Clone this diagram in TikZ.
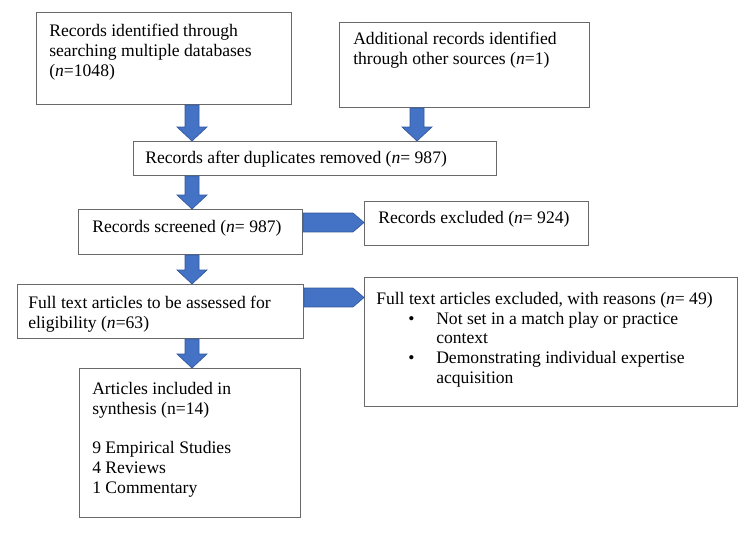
\documentclass[tikz,border=0pt]{standalone}
\usepackage{fontspec}
\setmainfont{Liberation Serif}
\usetikzlibrary{calc}

\definecolor{arrowblue}{RGB}{68,114,196}
\definecolor{arrowedge}{RGB}{50,88,158}
\definecolor{boxgray}{RGB}{105,105,105}

\newcommand{\blockdown}[2]{%
  \filldraw[arrowblue, draw=arrowedge, line width=.5pt] let \p1=(#1), \p2=(#2) in
    (\x1-5.25pt,\y1) -- (\x1-5.25pt,\y2+10.5pt) -- (\x1-11.25pt,\y2+10.5pt) -- (\x2,\y2)
    -- (\x1+11.25pt,\y2+10.5pt) -- (\x1+5.25pt,\y2+10.5pt) -- (\x1+5.25pt,\y1) -- cycle;}
\newcommand{\blockright}[2]{%
  \filldraw[arrowblue, draw=arrowedge, line width=.5pt] let \p1=(#1), \p2=(#2) in
    (\x1,\y1+7.1pt) -- (\x2-8.25pt,\y1+7.1pt) -- (\x2,\y1) -- (\x2-8.25pt,\y1-7.1pt)
    -- (\x1,\y1-7.1pt) -- cycle;}
\newcommand{\itembullet}{\makebox[45pt][l]{\hspace{24pt}\textbullet}}

\begin{document}
\begin{tikzpicture}[x=.75pt, y=-.75pt,
  box/.style={draw=boxgray, line width=.8pt, anchor=north west, inner sep=0pt},
  txt/.style={anchor=north west, align=left, inner sep=0pt, font=\fontsize{13.2}{14.8}\selectfont}]
\useasboundingbox (0,0) rectangle (750,536);

\node[box, minimum width=191.25pt, minimum height=69pt] (ident) at (36,12) {};
\node[txt] (identtxt) at (49,24) {Records identified through\\searching multiple databases\\(\textit{n}=1048)};

\node[box, minimum width=187.5pt, minimum height=63.75pt] (other) at (339,22) {};
\node[txt] (othertxt) at (353,32) {Additional records identified\\through other sources (\textit{n}=1)};

\node[box, minimum width=272.25pt, minimum height=25.5pt] (dedup) at (133,141) {};
\node[txt] (deduptxt) at (145,151) {Records after duplicates removed (\textit{n}= 987)};

\node[box, minimum width=168pt, minimum height=33.75pt] (screen) at (78,209) {};
\node[txt] (screentxt) at (92,220) {Records screened (\textit{n}= 987)};

\node[box, minimum width=168pt, minimum height=33pt] (excl) at (364,201) {};
\node[txt] (excltxt) at (378,211) {Records excluded (\textit{n}= 924)};

\node[box, minimum width=214.5pt, minimum height=40.5pt] (full) at (17,284) {};
\node[txt] (fulltxt) at (28,296) {Full text articles to be assessed for\\eligibility (\textit{n}=63)};

\node[box, minimum width=279.75pt, minimum height=96.75pt] (fullexcl) at (364,277) {};
\node[txt] (fullexcltxt) at (376,292) {Full text articles excluded, with reasons (\textit{n}= 49)\\
  \itembullet Not set in a match play or practice\\
  \hspace*{45pt}context\\
  \itembullet Demonstrating individual expertise\\
  \hspace*{45pt}acquisition};

\node[box, minimum width=165.75pt, minimum height=111.75pt] (incl) at (79,368) {};
\node[txt] (incltxt) at (92,382) {Articles included in\\synthesis (n=14)\\[14.8pt]9 Empirical Studies\\4 Reviews\\1 Commentary};

\coordinate (col) at (192,0);
\coordinate (col2) at (417,0);
\coordinate (row1) at (0,222.5);
\coordinate (row2) at (0,297.5);

\blockdown{ident.south -| col}{dedup.north -| col}
\blockdown{other.south -| col2}{dedup.north -| col2}
\blockdown{dedup.south -| col}{screen.north -| col}
\blockdown{screen.south -| col}{full.north -| col}
\blockdown{full.south -| col}{incl.north -| col}

\blockright{screen.east |- row1}{excl.west |- row1}
\blockright{full.east |- row2}{fullexcl.west |- row2}
\end{tikzpicture}
\end{document}
